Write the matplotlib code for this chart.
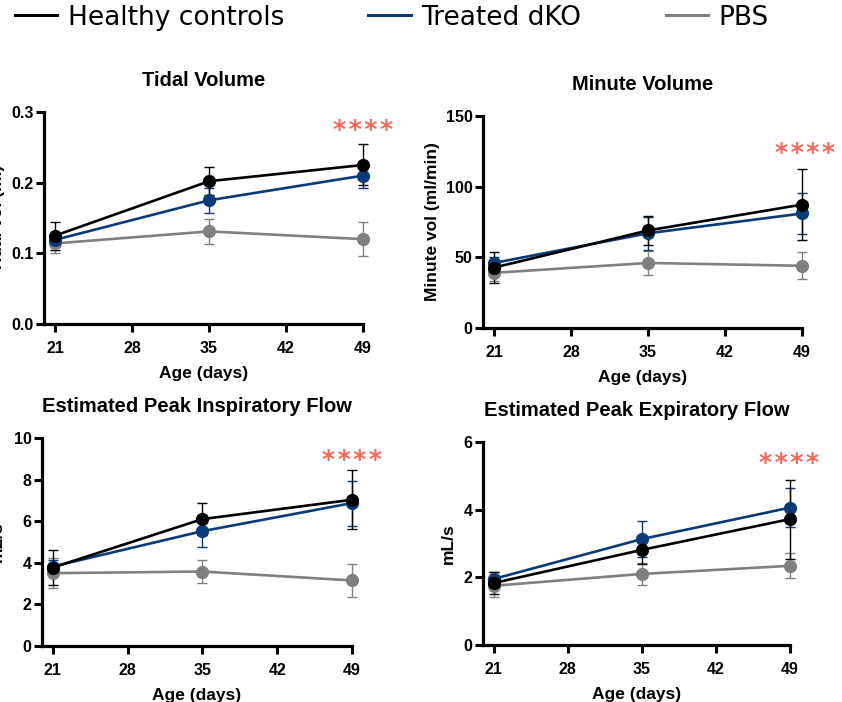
import matplotlib
matplotlib.use("Agg")
import matplotlib.pyplot as plt
from matplotlib.lines import Line2D

# ---- data -------------------------------------------------------------------
AGE = [21, 35, 49]
GROUPS = ["Healthy controls", "Treated dKO", "PBS"]

# tidal volume (ml)
TV_MEAN = {"Healthy controls": [0.125, 0.202, 0.225],
           "Treated dKO":      [0.119, 0.175, 0.210],
           "PBS":              [0.114, 0.131, 0.120]}
TV_ERR = {"Healthy controls": [0.020, 0.020, 0.029],
          "Treated dKO":      [0.010, 0.018, 0.017],
          "PBS":              [0.014, 0.018, 0.024]}

# minute volume (ml/min)
MV_MEAN = {"Healthy controls": [42.7, 69.0, 87.3],
           "Treated dKO":      [46.0, 67.0, 81.0],
           "PBS":              [39.0, 46.0, 44.0]}
MV_ERR = {"Healthy controls": [11.0, 10.5, 25.0],
          "Treated dKO":      [4.0, 11.5, 14.5],
          "PBS":              [6.0, 8.7, 9.5]}

# estimated peak inspiratory flow (mL/s)
PIF_MEAN = {"Healthy controls": [3.77, 6.10, 7.03],
            "Treated dKO":      [3.82, 5.52, 6.87],
            "PBS":              [3.50, 3.58, 3.15]}
PIF_ERR = {"Healthy controls": [0.85, 0.77, 1.43],
           "Treated dKO":      [0.32, 0.76, 1.08],
           "PBS":              [0.72, 0.56, 0.79]}

# estimated peak expiratory flow (mL/s)
PEF_MEAN = {"Healthy controls": [1.83, 2.81, 3.72],
            "Treated dKO":      [1.95, 3.13, 4.06],
            "PBS":              [1.75, 2.10, 2.34]}
PEF_ERR = {"Healthy controls": [0.33, 0.42, 1.17],
           "Treated dKO":      [0.22, 0.52, 0.57],
           "PBS":              [0.32, 0.33, 0.37]}

X_TICKS = [21, 28, 35, 42, 49]

# ---- style ------------------------------------------------------------------
COLOURS = {"Healthy controls": "#000000",
           "Treated dKO": "#0b3a78",
           "PBS": "#808080"}
STAR = "#f26a5a"
DRAW_ORDER = ["PBS", "Treated dKO", "Healthy controls"]

plt.rcParams["font.family"] = ["Liberation Sans", "DejaVu Sans"]
plt.rcParams["font.weight"] = "bold"
plt.rcParams["axes.labelweight"] = "bold"
plt.rcParams["axes.titleweight"] = "bold"

fig = plt.figure(figsize=(8.42, 7.02), dpi=100)

PANELS = [
    dict(rect=[0.0523, 0.5385, 0.3789, 0.3020], title="Tidal Volume",
         ylabel="Tidal vol (ml)", mean=TV_MEAN, err=TV_ERR,
         ylim=(0, 0.3), yticks=[0.0, 0.1, 0.2, 0.3], yfmt="{:.1f}",
         star=(49.0, 0.279), lab_x=-0.122),
    dict(rect=[0.5736, 0.5328, 0.3789, 0.3020], title="Minute Volume",
         ylabel="Minute vol (ml/min)", mean=MV_MEAN, err=MV_ERR,
         ylim=(0, 150), yticks=[0, 50, 100, 150], yfmt="{:.0f}",
         star=(49.3, 126), lab_x=-0.135),
    dict(rect=[0.0499, 0.0798, 0.3682, 0.2963], title="Estimated Peak Inspiratory Flow",
         ylabel="mL/s", mean=PIF_MEAN, err=PIF_ERR,
         ylim=(0, 10), yticks=[0, 2, 4, 6, 8, 10], yfmt="{:.0f}",
         star=(49.0, 9.1), lab_x=-0.119),
    dict(rect=[0.5736, 0.0812, 0.3646, 0.2892], title="Estimated Peak Expiratory Flow",
         ylabel="mL/s", mean=PEF_MEAN, err=PEF_ERR,
         ylim=(0, 6), yticks=[0, 2, 4, 6], yfmt="{:.0f}",
         star=(48.9, 5.48), lab_x=-0.088),
]

for p in PANELS:
    ax = fig.add_axes(p["rect"])
    for g in DRAW_ORDER:
        ax.errorbar(AGE, p["mean"][g], yerr=p["err"][g], color=COLOURS[g],
                    lw=1.9, marker="o", ms=8.5, elinewidth=1.0,
                    capsize=3.8, capthick=1.0, clip_on=False, zorder=3)
    ax.set_xlim(20, 49)
    ax.set_ylim(*p["ylim"])
    ax.set_xticks(X_TICKS)
    ax.set_yticks(p["yticks"])
    ax.set_yticklabels([p["yfmt"].format(v) for v in p["yticks"]])
    for s in ("top", "right"):
        ax.spines[s].set_visible(False)
    for s in ("left", "bottom"):
        ax.spines[s].set_linewidth(2.3)
    ax.tick_params(width=2.2, length=5.5, labelsize=11.5)
    ax.tick_params(axis="x", pad=7)
    ax.tick_params(axis="y", pad=2)
    ax.set_title(p["title"], fontsize=14.5, pad=19)
    ax.set_xlabel("Age (days)", fontsize=12.5, labelpad=7)
    ax.set_ylabel(p["ylabel"], fontsize=12.5)
    ax.yaxis.set_label_coords(p["lab_x"], 0.5)
    ax.annotate("*\u200a*\u200a*\u200a*", xy=p["star"], xytext=(0, -7.6),
                textcoords="offset points", ha="center", va="baseline",
                color=STAR, fontsize=18, family="DejaVu Sans",
                fontweight="bold", annotation_clip=False)

# legend: plain line swatches
handles = [Line2D([], [], color=COLOURS[g], lw=2.2) for g in GROUPS]
fig.legend(handles, GROUPS, loc="center left",
           bbox_to_anchor=(0.005, 0.975), ncol=3, frameon=False,
           prop=dict(family="DejaVu Sans", size=19, weight="normal"),
           handlelength=1.6, handletextpad=0.4, columnspacing=3.2,
           borderaxespad=0)

fig.savefig("out.png", dpi=100)
